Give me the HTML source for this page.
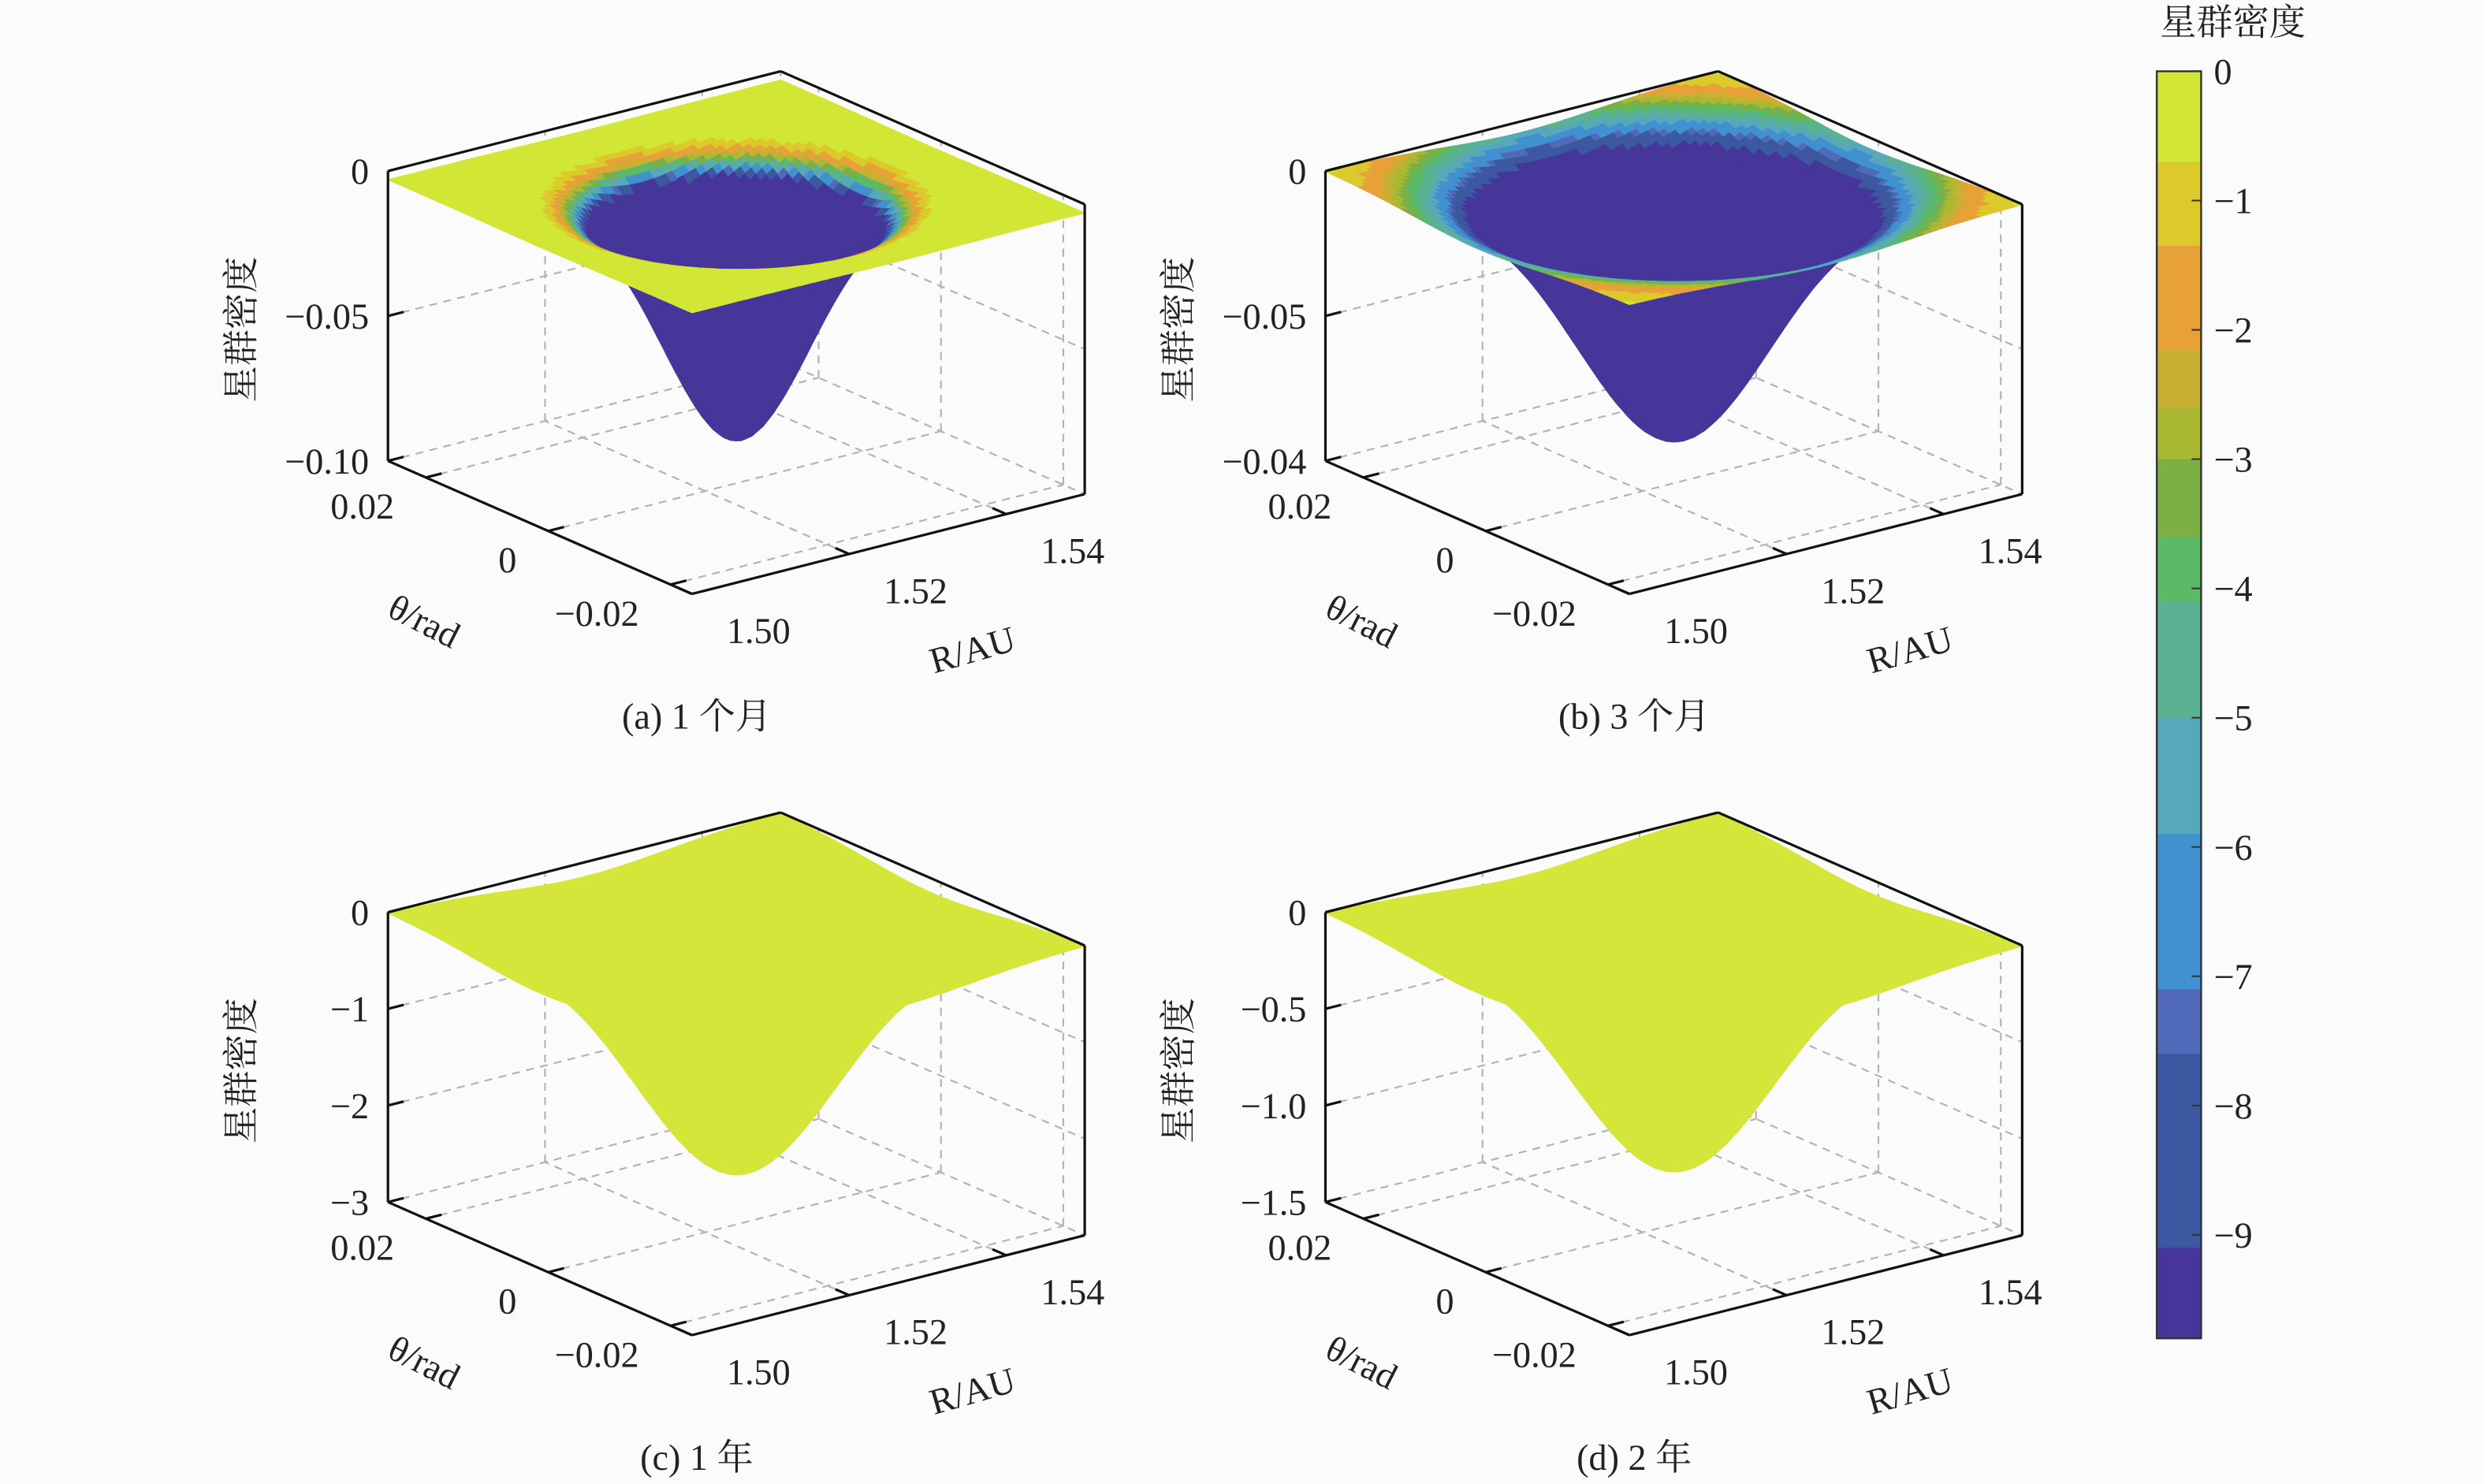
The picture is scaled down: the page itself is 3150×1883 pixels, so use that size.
<!DOCTYPE html>
<html><head><meta charset="utf-8"><style>
html,body{margin:0;padding:0;background:#fbfbfb}
svg{display:block}
text{font-family:"Liberation Serif","Noto Serif CJK SC","Noto Sans CJK SC",serif;fill:#222;font-size:23px}
</style></head><body>
<svg id="fig" width="3150" height="1883" viewBox="0 0 1568 937" preserveAspectRatio="none" xmlns="http://www.w3.org/2000/svg">
<rect width="1568" height="937" fill="#fbfbfb"/>
<g id="panels"></g>
<g id="cbar"></g>
<text x="1410" y="22" text-anchor="middle" font-size="24">星群密度</text>
</svg>
<script>
// ---- data ----
const rTicks = [1.50, 1.52, 1.54];
const rTickLabels = ["1.50", "1.52", "1.54"];
const thetaTicks = [0.02, 0, -0.02];
const thetaTickLabels = ["0.02", "0", "\u22120.02"];
const zRanges = [[-0.1, 0], [-0.1, 0], [-3, 0], [-1.5, 0]];
const zTicksA = [0, -0.05, -0.1];
const zTickLabelsA = ["0", "\u22120.05", "\u22120.10"];
const zTicksB = [0, -0.05, -0.1];
const zTickLabelsB = ["0", "\u22120.05", "\u22120.04"];
const zTicksC = [0, -1, -2, -3];
const zTickLabelsC = ["0", "\u22121", "\u22122", "\u22123"];
const zTicksD = [0, -0.5, -1.0, -1.5];
const zTickLabelsD = ["0", "\u22120.5", "\u22121.0", "\u22121.5"];
const captions = ["(a) 1 个月", "(b) 3 个月", "(c) 1 年", "(d) 2 年"];
const dipDepth = [0.084, 0.087, 2.52, 1.245];
const dipWidth = [0.15, 0.2, 0.21, 0.21];
const baseLevel = [-0.003, 0, 0, 0];
const colored = [true, true, false, false];
const colorScale = [0.13, 0.12, 1, 1];
const colorPower = [2, 0.7, 1, 1];
const cbarTicks = [0, -1, -2, -3, -4, -5, -6, -7, -8, -9];
const cbarTickLabels = ["0", "\u22121", "\u22122", "\u22123", "\u22124", "\u22125", "\u22126", "\u22127", "\u22128", "\u22129"];
const cbarBandTops = [0, -0.7, -1.35, -2.15, -2.6, -3.0, -3.6, -4.1, -5.0, -5.9, -7.1, -7.6, -9.1];
const cbarBandColors = ["#d2e636", "#dcc92c", "#e8a038", "#c9b032", "#a9b832", "#7cb046", "#5bba66", "#5ab292", "#57a9b9", "#4190d0", "#5169b9", "#3c58a0", "#46369a"];

// ---- geometry ----
const R0 = 1.50, R1 = 1.55, T0 = -0.0235, T1 = 0.0262;
const F = [437, 375], RV = [248, -63], TV = [-192, -84], ZV = [0, -183];
const offsets = [[0, 0], [592, 0], [0, 468], [592, 468]];
const NS = "http://www.w3.org/2000/svg";
const panelsG = document.getElementById('panels');

function fr(r) { return (r - R0) / (R1 - R0); }
function proj(p, a, b, c) {
  const o = offsets[p];
  return [F[0] + o[0] + a * RV[0] + b * TV[0] + c * ZV[0], F[1] + o[1] + a * RV[1] + b * TV[1] + c * ZV[1]];
}
function fthe(t) { return (t - T0) / (T1 - T0); }
function fz(p, z) { const r = zRanges[p]; return (z - r[0]) / (r[1] - r[0]); }

function mk(tag, attrs, parent) {
  const e = document.createElementNS(NS, tag);
  for (const k in attrs) e.setAttribute(k, attrs[k]);
  parent.appendChild(e);
  return e;
}
function cmap(v) {
  for (let i = cbarBandTops.length - 1; i >= 0; i--) if (v <= cbarBandTops[i]) return cbarBandColors[i];
  return cbarBandColors[0];
}
function line(g, p, A, B, dashed, name) {
  const a = proj(p, A[0], A[1], A[2]), b = proj(p, B[0], B[1], B[2]);
  const l = mk('line', { x1: a[0], y1: a[1], x2: b[0], y2: b[1], stroke: dashed ? '#b4b4b4' : '#111', 'stroke-width': dashed ? 1.1 : 1.6 }, g);
  if (dashed) l.setAttribute('stroke-dasharray', '5,4');
  
  
  return l;
}
function txt(g, x, y, s, anchor, name, extra) {
  const t = mk('text', { x: x, y: y, 'text-anchor': anchor }, g);
  if (extra) t.setAttribute('transform', extra);
  t.textContent = s;
  
  
  return t;
}

const zTickSets = [[zTicksA, zTickLabelsA], [zTicksB, zTickLabelsB], [zTicksC, zTickLabelsC], [zTicksD, zTickLabelsD]];

for (let p = 0; p < 4; p++) {
  const g = mk('g', {}, panelsG);
  
  
  const grid = mk('g', {}, g);
  
  
  const zt = zTickSets[p][0], zl = zTickSets[p][1];
  rTicks.forEach(r => {
    const a = fr(r);
    line(grid, p, [a, 1, 0], [a, 1, 1], true, 'wall-grid-r');
    line(grid, p, [a, 0, 0], [a, 1, 0], true, 'floor-grid-r');
  });
  thetaTicks.forEach(t => {
    const b = fthe(t);
    line(grid, p, [1, b, 0], [1, b, 1], true, 'wall-grid-theta');
    line(grid, p, [0, b, 0], [1, b, 0], true, 'floor-grid-theta');
  });
  zt.forEach(z => {
    const c = fz(p, z);
    line(grid, p, [0, 1, c], [1, 1, c], true, 'wall-grid-z');
    line(grid, p, [1, 1, c], [1, 0, c], true, 'wall-grid-z');
  });
  line(grid, p, [1, 1, 0], [1, 1, 1], true, 'back-corner');

  // surface
  const surf = mk('g', {}, g);
  
  
  const N = 64, A = dipDepth[p], s = dipWidth[p];
  const pts = [];
  for (let i = 0; i <= N; i++) {
    pts.push([]);
    for (let j = 0; j <= N; j++) {
      const a = i / N, b = j / N;
      const gval = Math.exp(-(((a - 0.5) ** 2) + ((b - 0.5) ** 2)) / (2 * s * s));
      const z = baseLevel[p] - A * gval;
      const c = fz(p, z);
      pts[i].push({ a: a, b: b, c: c, g: gval, xy: proj(p, a, b, c) });
    }
  }
  const quads = [];
  for (let i = 0; i < N; i++) for (let j = 0; j < N; j++) {
    const q = [pts[i][j], pts[i + 1][j], pts[i + 1][j + 1], pts[i][j + 1]];
    let d = 0, gg = 0;
    q.forEach(v => { d += 192 * v.a + 248 * v.b - 180 * v.c; gg += v.g; });
    quads.push({ q: q, d: d, g: gg / 4 });
  }
  quads.sort((x, y) => y.d - x.d);
  quads.forEach(Q => {
    let col = '#d4e63a';
    if (colored[p]) {
      const v = -9.8 * Math.min(1, Math.pow(Q.g / colorScale[p], colorPower[p]));
      col = cmap(v);
    }
    const poly = mk('polygon', { points: Q.q.map(v => v.xy[0].toFixed(1) + ',' + v.xy[1].toFixed(1)).join(' '), fill: col, stroke: col, 'stroke-width': 0.6 }, surf);
    
    
  });

  // box edges
  const ax = mk('g', {}, g);
  
  
  line(ax, p, [0, 1, 0], [0, 1, 1], false, 'z-axis-line');
  line(ax, p, [0, 1, 1], [1, 1, 1], false, 'box-top-edge');
  line(ax, p, [1, 1, 1], [1, 0, 1], false, 'box-top-edge');
  line(ax, p, [1, 0, 1], [1, 0, 0], false, 'box-right-edge');
  line(ax, p, [0, 1, 0], [0, 0, 0], false, 'theta-axis-line');
  line(ax, p, [0, 0, 0], [1, 0, 0], false, 'r-axis-line');

  rTicks.forEach((r, k) => {
    const a = fr(r);
    line(ax, p, [a, 0, 0], [a, 0.045, 0], false, 'r-tick');
    const xy = proj(p, a, 0, 0);
    txt(ax, xy[0] + 42, xy[1] + 31, rTickLabels[k], 'middle', 'r-tick-label');
  });
  thetaTicks.forEach((t, k) => {
    const b = fthe(t);
    line(ax, p, [0, b, 0], [0.04, b, 0], false, 'theta-tick');
    const xy = proj(p, 0, b, 0);
    txt(ax, xy[0] - 20, xy[1] + 26, thetaTickLabels[k], 'end', 'theta-tick-label');
  });
  zt.forEach((z, k) => {
    const c = fz(p, z);
    line(ax, p, [0, 1, c], [0.04, 1, c], false, 'z-tick');
    const xy = proj(p, 0, 1, c);
    txt(ax, xy[0] - 12, xy[1] + 8, zl[k], 'end', 'z-tick-label');
  });
  const o = offsets[p];
  txt(ax, 152 + o[0], 200 + o[1], '星群密度', 'middle', 'z-axis-title', 'rotate(-90 ' + (160 + o[0]) + ' ' + (200 + o[1]) + ')');
  txt(ax, 268 + o[0], 400 + o[1], 'θ/rad', 'middle', 'theta-axis-title', 'rotate(27 ' + (268 + o[0]) + ' ' + (392 + o[1]) + ')');
  txt(ax, 614 + o[0], 418 + o[1], 'R/AU', 'middle', 'r-axis-title', 'rotate(-16 ' + (614 + o[0]) + ' ' + (410 + o[1]) + ')');
  txt(ax, 440 + o[0], 460 + o[1], captions[p], 'middle', 'panel-caption');
}

// ---- colorbar ----
const cb = document.getElementById('cbar');
const CB_X = 1362, CB_W = 28, CB_TOP = 45, CB_BOT = 845, CB_MIN = -9.8;
function cy(v) { return CB_TOP + (v / CB_MIN) * (CB_BOT - CB_TOP); }
cbarBandTops.forEach((top, i) => {
  const bot = i + 1 < cbarBandTops.length ? cbarBandTops[i + 1] : CB_MIN;
  const r = mk('rect', { x: CB_X, y: cy(top), width: CB_W, height: cy(bot) - cy(top) + 0.5, fill: cbarBandColors[i] }, cb);
  
  
});
const frame = mk('rect', { x: CB_X, y: CB_TOP, width: CB_W, height: CB_BOT - CB_TOP, fill: 'none', stroke: '#333', 'stroke-width': 1.2 }, cb);


cbarTicks.forEach((v, k) => {
  const y = cy(v);
  const l = mk('line', { x1: CB_X + CB_W - 6, y1: y, x2: CB_X + CB_W, y2: y, stroke: '#333', 'stroke-width': 1 }, cb);
  
  
  txt(cb, CB_X + CB_W + 8, y + 8, cbarTickLabels[k], 'start', 'colorbar-tick-label');
});
</script>
</body></html>
